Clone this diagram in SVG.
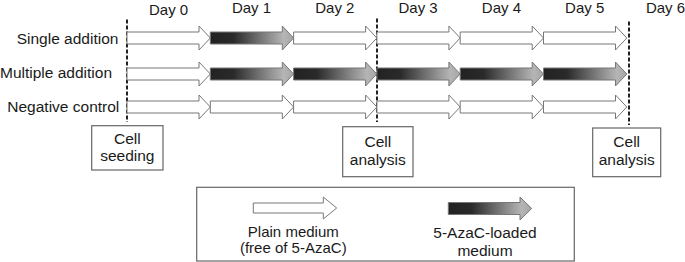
<svg xmlns="http://www.w3.org/2000/svg" xmlns:xlink="http://www.w3.org/1999/xlink" width="685" height="262" viewBox="0 0 685 262">
<style>
text{font-family:"Liberation Sans",Arial,sans-serif;font-size:15.5px;fill:#1a1a1a}
.day{font-size:15px;text-anchor:middle}
.mid{text-anchor:middle}
.leg{font-size:15px}
.box{fill:#fff;stroke:#666;stroke-width:1.2}
.dash{stroke:#222;stroke-width:2;stroke-dasharray:4 2;fill:none}
.wa{fill:#fff;stroke:#777;stroke-width:1}
.ga{fill:url(#grad);stroke:#777;stroke-width:1}
</style>
<defs>
<linearGradient id="grad" x1="0" y1="0" x2="1" y2="0">
<stop offset="0" stop-color="#222"/>
<stop offset="0.28" stop-color="#2a2a2a"/>
<stop offset="0.88" stop-color="#b5b5b5"/>
<stop offset="1" stop-color="#a5a5a5"/>
</linearGradient>
<path id="arr" d="M0,-6 H72 V-12 L83.3,0 L72,12 V6 H0 Z"/>
</defs>
<rect width="685" height="262" fill="#fff"/>
<g id="day-labels">
<text class="day" x="168.6" y="15">Day 0</text>
<text class="day" x="251.5" y="12.7">Day 1</text>
<text class="day" x="334.8" y="12.7">Day 2</text>
<text class="day" x="418.1" y="12.7">Day 3</text>
<text class="day" x="501.4" y="12.7">Day 4</text>
<text class="day" x="584.7" y="12.7">Day 5</text>
<text class="day" x="665.5" y="12.7">Day 6</text>
</g>
<g id="row-labels">
<text x="16.7" y="43.5">Single addition</text>
<text x="0" y="77.5">Multiple addition</text>
<text x="7.3" y="111.7">Negative control</text>
</g>
<g id="connectors">
<line class="dash" x1="127" y1="19.5" x2="127" y2="122"/>
<line class="dash" x1="377" y1="18.5" x2="377" y2="122"/>
<line class="dash" x1="629" y1="21.5" x2="629" y2="125"/>
</g>
<g id="row-single">
<use href="#arr" class="wa" x="127" y="38"/>
<use href="#arr" class="ga" x="210.3" y="38"/>
<use href="#arr" class="wa" x="293.6" y="38"/>
<use href="#arr" class="wa" x="376.9" y="38"/>
<use href="#arr" class="wa" x="460.2" y="38"/>
<use href="#arr" class="wa" x="543.5" y="38"/>
</g>
<g id="row-multiple">
<use href="#arr" class="wa" x="127" y="74"/>
<use href="#arr" class="ga" x="210.3" y="74"/>
<use href="#arr" class="ga" x="293.6" y="74"/>
<use href="#arr" class="ga" x="376.9" y="74"/>
<use href="#arr" class="ga" x="460.2" y="74"/>
<use href="#arr" class="ga" x="543.5" y="74"/>
</g>
<g id="row-negative">
<use href="#arr" class="wa" x="127" y="107"/>
<use href="#arr" class="wa" x="210.3" y="107"/>
<use href="#arr" class="wa" x="293.6" y="107"/>
<use href="#arr" class="wa" x="376.9" y="107"/>
<use href="#arr" class="wa" x="460.2" y="107"/>
<use href="#arr" class="wa" x="543.5" y="107"/>
</g>
<g id="cell-seeding">
<rect class="box" x="91.7" y="125.7" width="71.3" height="44.3"/>
<text class="mid" x="127.3" y="144.3">Cell</text>
<text class="mid" x="127.3" y="160.5">seeding</text>
</g>
<g id="cell-analysis-1">
<rect class="box" x="342.7" y="126.7" width="70.3" height="50"/>
<text class="mid" x="377.8" y="147.3">Cell</text>
<text class="mid" x="377.8" y="165">analysis</text>
</g>
<g id="cell-analysis-2">
<rect class="box" x="592.7" y="128" width="68" height="48.7"/>
<text class="mid" x="626.7" y="147.3">Cell</text>
<text class="mid" x="626.7" y="165">analysis</text>
</g>
<g id="legend">
<rect class="box" x="196.7" y="187.3" width="377.6" height="73.7"/>
<path class="wa" d="M253.3,203 H323.3 V197 L336.7,208 L323.3,219 V213 H253.3 Z"/>
<path class="ga" d="M448.3,202.5 H520 V197 L531.7,208.5 L520,220 V214.5 H448.3 Z"/>
<text class="mid leg" x="293.3" y="236.5">Plain medium</text>
<text class="mid leg" x="293.3" y="253">(free of 5-AzaC)</text>
<text class="mid" x="485" y="238">5-AzaC-loaded</text>
<text class="mid" x="485" y="256">medium</text>
</g>
</svg>
